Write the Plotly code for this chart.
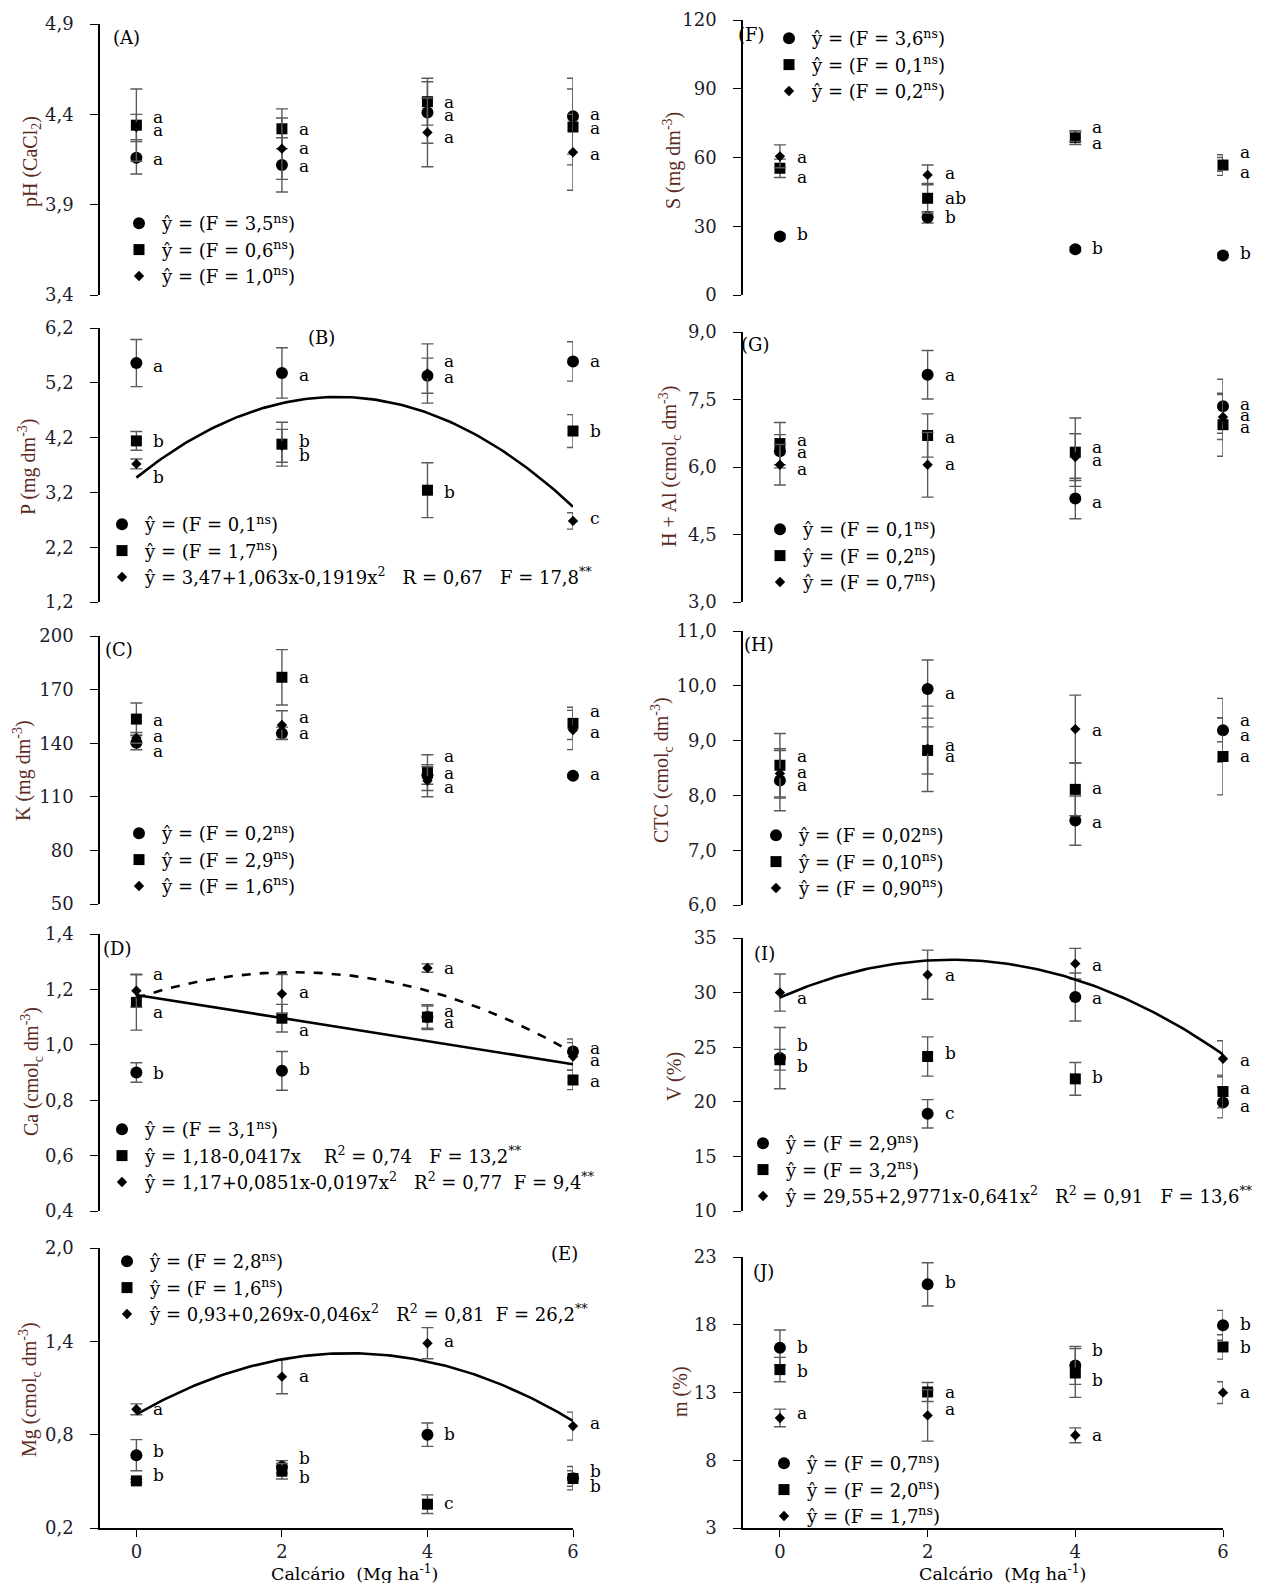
import numpy as np
import plotly.graph_objects as go

# reference canvas is 1268x1591; the page body adds an 8px margin, so the figure
# is drawn 8px in from the top-left and sized to fit inside the window
REF_W, REF_H = 1268, 1591
OFF = 8
W, H = REF_W - 2 * OFF, REF_H - 2 * OFF
FONT = "DejaVu Serif"
TFONT = "Liberation Serif"
doses = [0, 2, 4, 6]
YH = "\u0177"
SP = "\u00a0"

# ---------------- data ----------------
# (A) pH (CaCl2)
A_circ = [4.16, 4.12, 4.41, 4.39]; A_circ_err = [0.09, 0.15, 0.17, 0.21]
A_sq = [4.34, 4.32, 4.47, 4.33];   A_sq_err = [0.20, 0.11, 0.13, 0.21]
A_dia = [4.33, 4.21, 4.30, 4.19];  A_dia_err = [0.07, 0.17, 0.19, 0.21]
A_let = [["a", "a", "a"], ["a", "a", "a"], ["a", "a", "a"], ["a", "a", "a"]]
A_let_y = [[4.386, 4.312, 4.15], [4.32, 4.215, 4.115], [4.47, 4.395, 4.275], [4.404, 4.327, 4.178]]
A_leg = ["(F = 3,5<sup>ns</sup>)", "(F = 0,6<sup>ns</sup>)", "(F = 1,0<sup>ns</sup>)"]

# (B) P
B_circ = [5.56, 5.38, 5.33, 5.59]; B_circ_err = [0.43, 0.46, 0.32, 0.36]
B_sq = [4.14, 4.08, 3.24, 4.32];   B_sq_err = [0.17, 0.40, 0.50, 0.30]
B_dia = [3.72, 4.05, 5.37, 2.68];  B_dia_err = [0.09, 0.30, 0.54, 0.15]
B_let = [["a", "b", "b"], ["a", "b", "b"], ["a", "a", "b"], ["a", "b", "c"]]
B_let_y = [[5.51, 4.13, 3.49], [5.35, 4.13, 3.88], [5.59, 5.30, 3.21], [5.60, 4.32, 2.74]]
B_leg = ["(F = 0,1<sup>ns</sup>)", "(F = 1,7<sup>ns</sup>)",
         "3,47+1,063x-0,1919x<sup>2</sup>" + SP * 3 + "R = 0,67" + SP * 3 + "F = 17,8<sup>**</sup>"]
B_fit_dia = [3.47, 1.063, -0.1919]

# (C) K
C_circ = [140.3, 145.5, 122.0, 121.8]; C_circ_err = [4, 3.5, 5, 1]
C_sq = [153.5, 176.9, 123.5, 151.1];   C_sq_err = [9, 15.5, 10, 9]
C_dia = [143.0, 150.2, 119.0, 147.4];  C_dia_err = [3, 8, 9, 11]
C_let = [["a", "a", "a"], ["a", "a", "a"], ["a", "a", "a"], ["a", "a", "a"]]
C_let_y = [[153.0, 144.0, 135.8], [176.9, 154.5, 145.5], [133.0, 123.1, 115.7], [158.2, 146.5, 122.6]]
C_leg = ["(F = 0,2<sup>ns</sup>)", "(F = 2,9<sup>ns</sup>)", "(F = 1,6<sup>ns</sup>)"]

# (D) Ca
D_circ = [0.90, 0.906, 1.10, 0.976]; D_circ_err = [0.035, 0.07, 0.04, 0.045]
D_sq = [1.153, 1.096, 1.10, 0.873];  D_sq_err = [0.10, 0.05, 0.045, 0.035]
D_dia = [1.195, 1.184, 1.277, 0.958]; D_dia_err = [0.06, 0.07, 0.015, 0.05]
D_let = [["a", "a", "b"], ["a", "a", "b"], ["a", "a", "a"], ["a", "a", "a"]]
D_let_y = [[1.255, 1.118, 0.898], [1.19, 1.054, 0.913], [1.277, 1.123, 1.082], [0.99, 0.946, 0.871]]
D_leg = ["(F = 3,1<sup>ns</sup>)",
         "1,18-0,0417x" + SP * 4 + "R<sup>2</sup> = 0,74" + SP * 3 + "F = 13,2<sup>**</sup>",
         "1,17+0,0851x-0,0197x<sup>2</sup>" + SP * 3 + "R<sup>2</sup> = 0,77" + SP * 2 + "F = 9,4<sup>**</sup>"]
D_fit_sq = [1.18, -0.0417, 0.0]
D_fit_dia = [1.17, 0.0851, -0.0197]

# (E) Mg
E_circ = [0.668, 0.593, 0.80, 0.52]; E_circ_err = [0.10, 0.04, 0.075, 0.075]
E_sq = [0.503, 0.565, 0.353, 0.518]; E_sq_err = [0.01, 0.05, 0.06, 0.05]
E_dia = [0.963, 1.173, 1.388, 0.855]; E_dia_err = [0.035, 0.11, 0.10, 0.09]
E_let = [["a", "b", "b"], ["a", "b", "b"], ["a", "b", "c"], ["a", "b", "b"]]
E_let_y = [[0.963, 0.696, 0.54], [1.18, 0.647, 0.529], [1.399, 0.804, 0.361], [0.872, 0.567, 0.469]]
E_leg = ["(F = 2,8<sup>ns</sup>)", "(F = 1,6<sup>ns</sup>)",
         "0,93+0,269x-0,046x<sup>2</sup>" + SP * 3 + "R<sup>2</sup> = 0,81" + SP * 2 + "F = 26,2<sup>**</sup>"]
E_fit_dia = [0.93, 0.269, -0.046]

# (F) S
F_circ = [25.5, 33.9, 20.0, 17.2]; F_circ_err = [1, 2.5, 1, 1]
F_sq = [55.3, 42.2, 68.7, 56.7];   F_sq_err = [4, 6.5, 3, 4.5]
F_dia = [60.5, 52.4, 69.0, 57.0];  F_dia_err = [5, 4.3, 2, 3]
F_let = [["a", "a", "b"], ["a", "ab", "b"], ["a", "a", "b"], ["a", "a", "b"]]
F_let_y = [[60.4, 51.6, 26.5], [53.1, 42.2, 34.2], [73.5, 66.2, 20.4], [62.5, 53.8, 18.2]]
F_leg = ["(F = 3,6<sup>ns</sup>)", "(F = 0,1<sup>ns</sup>)", "(F = 0,2<sup>ns</sup>)"]

# (G) H + Al
G_circ = [6.35, 8.05, 5.30, 7.35]; G_circ_err = [0.37, 0.54, 0.45, 0.60]
G_sq = [6.52, 6.70, 6.33, 6.94];   G_sq_err = [0.47, 0.48, 0.76, 0.70]
G_dia = [6.05, 6.05, 6.22, 7.11];  G_dia_err = [0.45, 0.72, 0.52, 0.50]
G_let = [["a", "a", "a"], ["a", "a", "a"], ["a", "a", "a"], ["a", "a", "a"]]
G_let_y = [[6.59, 6.33, 5.96], [8.04, 6.67, 6.07], [6.44, 6.15, 5.22], [7.39, 7.16, 6.89]]
G_leg = ["(F = 0,1<sup>ns</sup>)", "(F = 0,2<sup>ns</sup>)", "(F = 0,7<sup>ns</sup>)"]

# (H) CTC
H_circ = [8.27, 9.94, 7.54, 9.19]; H_circ_err = [0.55, 0.53, 0.45, 0.58]
H_sq = [8.55, 8.82, 8.11, 8.71];   H_sq_err = [0.58, 0.43, 0.48, 0.70]
H_dia = [8.40, 8.85, 9.21, 9.20];  H_dia_err = [0.45, 0.78, 0.62, 0.22]
H_let = [["a", "a", "a"], ["a", "a", "a"], ["a", "a", "a"], ["a", "a", "a"]]
H_let_y = [[8.71, 8.43, 8.19], [9.86, 8.92, 8.71], [9.19, 8.13, 7.52], [9.38, 9.10, 8.72]]
H_leg = ["(F = 0,02<sup>ns</sup>)", "(F = 0,10<sup>ns</sup>)", "(F = 0,90<sup>ns</sup>)"]

# (I) V
I_circ = [24.0, 18.9, 29.6, 19.93]; I_circ_err = [2.8, 1.3, 2.2, 1.4]
I_sq = [23.85, 24.15, 22.1, 20.94]; I_sq_err = [0.95, 1.8, 1.5, 1.5]
I_dia = [30.0, 31.64, 32.65, 23.94]; I_dia_err = [1.7, 2.25, 1.4, 1.65]
I_let = [["a", "b", "b"], ["a", "b", "c"], ["a", "a", "b"], ["a", "a", "a"]]
I_let_y = [[29.5, 25.2, 23.3], [31.6, 24.5, 19.0], [32.55, 29.5, 22.3], [23.85, 21.25, 19.6]]
I_leg = ["(F = 2,9<sup>ns</sup>)", "(F = 3,2<sup>ns</sup>)",
         "29,55+2,9771x-0,641x<sup>2</sup>" + SP * 3 + "R<sup>2</sup> = 0,91" + SP * 3 + "F = 13,6<sup>**</sup>"]
I_fit_dia = [29.55, 2.9771, -0.641]

# (J) m
J_circ = [16.31, 20.98, 15.0, 17.96]; J_circ_err = [1.3, 1.6, 1.4, 1.1]
J_sq = [14.69, 13.04, 14.44, 16.36];  J_sq_err = [0.9, 0.7, 1.8, 0.9]
J_dia = [11.12, 11.31, 9.84, 12.99];  J_dia_err = [0.65, 1.9, 0.55, 0.8]
J_let = [["b", "b", "a"], ["b", "a", "a"], ["b", "b", "a"], ["b", "b", "a"]]
J_let_y = [[16.36, 14.59, 11.49], [21.15, 13.04, 11.81], [16.11, 13.90, 9.84], [18.08, 16.36, 13.04]]
J_leg = ["(F = 0,7<sup>ns</sup>)", "(F = 2,0<sup>ns</sup>)", "(F = 1,7<sup>ns</sup>)"]

# ---------------- layout geometry (reference pixels -> paper) ----------------
def px(x):
    return (x - OFF) / W

def py(y):
    return 1 - (y - OFF) / H

def ydom(top, bot):
    return [py(bot), py(top)]

LEFT_X = [px(100), px(573)]
RIGHT_X = [px(743), px(1223)]

panels = [
    dict(tag="(A)", c=A_circ, ce=A_circ_err, s=A_sq, se=A_sq_err, d=A_dia, de=A_dia_err, let=A_let, lety=A_let_y,
         leg=A_leg, fits=[], yr=[3.4, 4.9], tv=[3.4, 3.9, 4.4, 4.9], fmt=".1f",
         ytitle="pH (CaCl<sub>2</sub>)", tpos=(32, 162), dom=ydom(24, 295), col=0, lpos=(139, 221), ppos=(126, 37)),
    dict(tag="(B)", c=B_circ, ce=B_circ_err, s=B_sq, se=B_sq_err, d=B_dia, de=B_dia_err, let=B_let, lety=B_let_y,
         leg=B_leg, fits=[(B_fit_dia, "solid")], yr=[1.2, 6.2], tv=[1.2, 2.2, 3.2, 4.2, 5.2, 6.2], fmt=".1f",
         ytitle="P (mg dm<sup>-3</sup>)", tpos=(28, 467), dom=ydom(328, 602), col=0, lpos=(122, 522), ppos=(321, 337)),
    dict(tag="(C)", c=C_circ, ce=C_circ_err, s=C_sq, se=C_sq_err, d=C_dia, de=C_dia_err, let=C_let, lety=C_let_y,
         leg=C_leg, fits=[], yr=[50, 200], tv=[50, 80, 110, 140, 170, 200], fmt="d",
         ytitle="K (mg dm<sup>-3</sup>)", tpos=(22, 771), dom=ydom(636, 904), col=0, lpos=(139, 831), ppos=(119, 649)),
    dict(tag="(D)", c=D_circ, ce=D_circ_err, s=D_sq, se=D_sq_err, d=D_dia, de=D_dia_err, let=D_let, lety=D_let_y,
         leg=D_leg, fits=[(D_fit_sq, "solid"), (D_fit_dia, "dash")], yr=[0.4, 1.4],
         tv=[0.4, 0.6, 0.8, 1.0, 1.2, 1.4], fmt=".1f",
         ytitle="Ca (cmol<sub>c</sub> dm<sup>-3</sup>)", tpos=(32, 1072), dom=ydom(934, 1211), col=0,
         lpos=(122, 1127), ppos=(117, 948)),
    dict(tag="(E)", c=E_circ, ce=E_circ_err, s=E_sq, se=E_sq_err, d=E_dia, de=E_dia_err, let=E_let, lety=E_let_y,
         leg=E_leg, fits=[(E_fit_dia, "solid")], yr=[0.2, 2.0], tv=[0.2, 0.8, 1.4, 2.0], fmt=".1f",
         ytitle="Mg (cmol<sub>c</sub> dm<sup>-3</sup>)", tpos=(30, 1390), dom=ydom(1248, 1528), col=0,
         lpos=(127, 1259), ppos=(564, 1253)),
    dict(tag="(F)", c=F_circ, ce=F_circ_err, s=F_sq, se=F_sq_err, d=F_dia, de=F_dia_err, let=F_let, lety=F_let_y,
         leg=F_leg, fits=[], yr=[0, 120], tv=[0, 30, 60, 90, 120], fmt="d",
         ytitle="S (mg dm<sup>-3</sup>)", tpos=(672, 161), dom=ydom(20, 295), col=1, lpos=(789, 36), ppos=(751, 35)),
    dict(tag="(G)", c=G_circ, ce=G_circ_err, s=G_sq, se=G_sq_err, d=G_dia, de=G_dia_err, let=G_let, lety=G_let_y,
         leg=G_leg, fits=[], yr=[3.0, 9.0], tv=[3.0, 4.5, 6.0, 7.5, 9.0], fmt=".1f",
         ytitle="H + Al (cmol<sub>c</sub> dm<sup>-3</sup>)", tpos=(670, 467), dom=ydom(332, 602), col=1,
         lpos=(780, 527), ppos=(755, 345)),
    dict(tag="(H)", c=H_circ, ce=H_circ_err, s=H_sq, se=H_sq_err, d=H_dia, de=H_dia_err, let=H_let, lety=H_let_y,
         leg=H_leg, fits=[], yr=[6.0, 11.0], tv=[6, 7, 8, 9, 10, 11], fmt=".1f",
         ytitle="CTC (cmol<sub>c</sub> dm<sup>-3</sup>)", tpos=(662, 770), dom=ydom(631, 905), col=1,
         lpos=(776, 833), ppos=(759, 644)),
    dict(tag="(I)", c=I_circ, ce=I_circ_err, s=I_sq, se=I_sq_err, d=I_dia, de=I_dia_err, let=I_let, lety=I_let_y,
         leg=I_leg, fits=[(I_fit_dia, "solid")], yr=[10, 35], tv=[10, 15, 20, 25, 30, 35], fmt="d",
         ytitle="V (%)", tpos=(674, 1077), dom=ydom(938, 1211), col=1, lpos=(763, 1141), ppos=(764, 953)),
    dict(tag="(J)", c=J_circ, ce=J_circ_err, s=J_sq, se=J_sq_err, d=J_dia, de=J_dia_err, let=J_let, lety=J_let_y,
         leg=J_leg, fits=[], yr=[3, 23], tv=[3, 8, 13, 18, 23], fmt="d",
         ytitle="m (%)", tpos=(680, 1392), dom=ydom(1257, 1528), col=1, lpos=(784, 1461), ppos=(763, 1271)),
]

fig = go.Figure()
annotations = []
layout = {}
TICKFONT = dict(family=FONT, size=18, color="#1c1c2c")
TITLEC = "#5a2a1e"
ERRC = "#5a5a5a"

for i, p in enumerate(panels):
    n = i + 1
    xa = "x" if n == 1 else f"x{n}"
    ya = "y" if n == 1 else f"y{n}"
    lg = "legend" if n == 1 else f"legend{n}"
    bottom = (n == 5 or n == 10)

    series = [
        (p["c"], p["ce"], "circle", 12),
        (p["s"], p["se"], "square", 11),
        (p["d"], p["de"], "diamond", 8),
    ]
    for k, (vals, errs, sym, sz) in enumerate(series):
        fig.add_trace(go.Scatter(
            x=doses, y=vals, mode="markers", xaxis=xa, yaxis=ya, legend=lg,
            name=YH + " = " + p["leg"][k], cliponaxis=False,
            marker=dict(symbol=sym, size=sz, color="black", line=dict(width=0)),
            error_y=dict(type="data", array=errs, color=ERRC, thickness=1.4, width=6),
        ))
    for coefs, dash in p["fits"]:
        xf = np.linspace(0, 6, 121)
        yf = coefs[0] + coefs[1] * xf + coefs[2] * xf ** 2
        fig.add_trace(go.Scatter(x=xf, y=yf, mode="lines", xaxis=xa, yaxis=ya, showlegend=False,
                                 cliponaxis=False, line=dict(color="black", width=2.6, dash=dash)))

    xd = LEFT_X if p["col"] == 0 else RIGHT_X
    layout["xaxis" if n == 1 else f"xaxis{n}"] = dict(
        domain=xd, anchor=ya, range=[-0.5, 6.0], visible=bottom, showgrid=False, zeroline=False,
        showline=bottom, linecolor="black", linewidth=1.5, ticks="outside" if bottom else "",
        tickvals=doses, ticklen=7, tickcolor="black", tickfont=TICKFONT, ticklabelstandoff=0,
        automargin=False,
    )
    layout["yaxis" if n == 1 else f"yaxis{n}"] = dict(
        domain=p["dom"], anchor=xa, range=p["yr"], tickvals=p["tv"], tickformat=p["fmt"],
        showgrid=False, zeroline=False, showline=True, linecolor="black", linewidth=1.5,
        ticks="outside", ticklen=8, tickcolor="black", tickfont=TICKFONT, ticklabelstandoff=13,
        automargin=False,
    )
    mx, my = p["lpos"]
    layout[lg] = dict(x=px(mx - 23), y=py(my - 16), xanchor="left", yanchor="top",
                      bgcolor="rgba(0,0,0,0)", borderwidth=0, itemwidth=36,
                      font=dict(family=FONT, size=18, color="black"), itemsizing="trace")

    # significance letters
    for j, d in enumerate(doses):
        for letter, ly in zip(p["let"][j], p["lety"][j]):
            annotations.append(dict(x=d, y=ly, xref=xa, yref=ya, text=letter, showarrow=False,
                                    xanchor="left", xshift=15, yanchor="middle",
                                    font=dict(family=FONT, size=17, color="black")))
    # y-axis title
    tx, ty = p["tpos"]
    annotations.append(dict(x=px(tx), y=py(ty), xref="paper", yref="paper", text=p["ytitle"],
                            textangle=-90, showarrow=False, xanchor="center", yanchor="middle",
                            font=dict(family=TFONT, size=20, color=TITLEC)))
    # panel tag
    tx2, ty2 = p["ppos"]
    annotations.append(dict(x=px(tx2), y=py(ty2), xref="paper", yref="paper", text=p["tag"],
                            showarrow=False, xanchor="center", yanchor="middle",
                            font=dict(family=FONT, size=18, color="black")))

# x-axis titles
for (cx, cy) in [(354, 1573), (1002, 1573)]:
    annotations.append(dict(x=px(cx), y=py(cy), xref="paper", yref="paper",
                            text="Calcário" + SP * 2 + "(Mg ha<sup>-1</sup>)", showarrow=False,
                            xanchor="center", yanchor="middle",
                            font=dict(family=FONT, size=17.5, color="black")))

fig.update_layout(
    width=W, height=H, margin=dict(l=0, r=0, t=0, b=0, autoexpand=False),
    paper_bgcolor="white", plot_bgcolor="white", separators=", ",
    annotations=annotations, font=dict(family=FONT, size=18, color="black"),
    **layout,
)

fig.write_html("out.html")
